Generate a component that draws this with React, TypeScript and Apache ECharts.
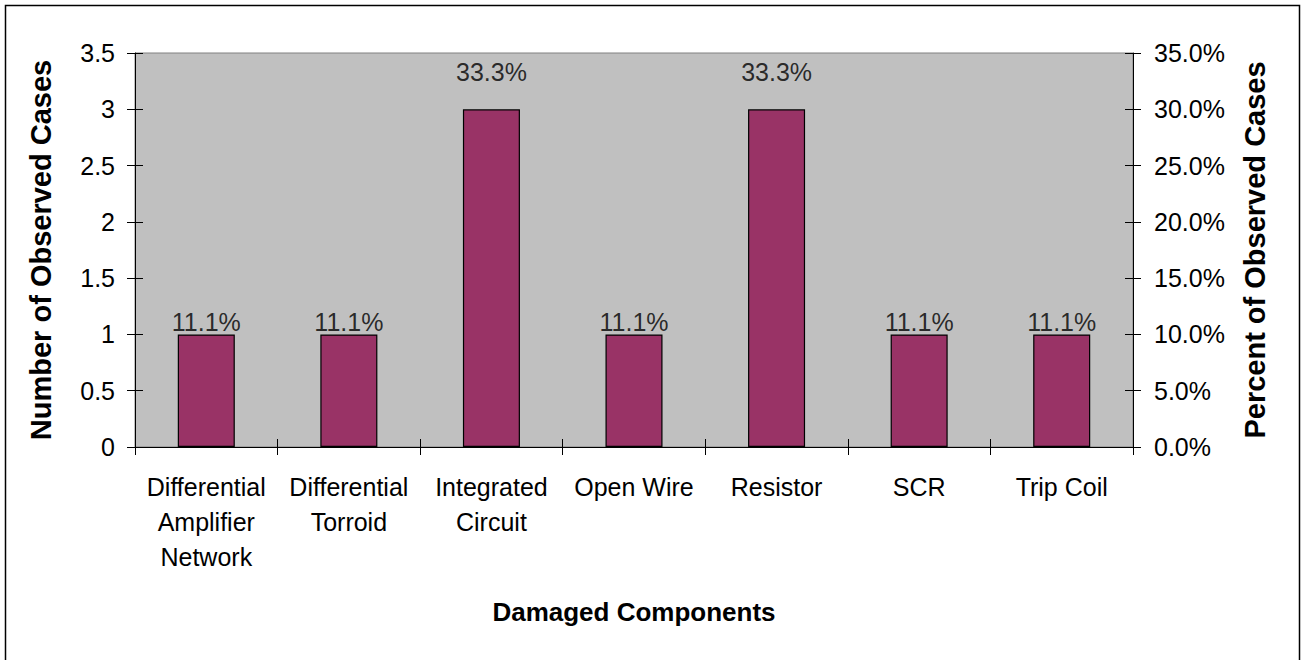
import React, { useEffect, useRef } from "react";
import * as echarts from "echarts";

const categories = [
  "Differential\nAmplifier\nNetwork",
  "Differential\nTorroid",
  "Integrated\nCircuit",
  "Open Wire",
  "Resistor",
  "SCR",
  "Trip Coil",
];
const counts = [1, 1, 3, 1, 3, 1, 1];
const percents = [11.1, 11.1, 33.3, 11.1, 33.3, 11.1, 11.1];

const FONT = "'Liberation Sans', Arial, sans-serif";

export default function App() {
  const ref = useRef<HTMLDivElement>(null);
  useEffect(() => {
    document.body.style.margin = "0";
    const chart = echarts.init(ref.current!, null, { renderer: "svg" });
    const black = "#000000";
    chart.setOption({
      animation: false,
      textStyle: { fontFamily: FONT },
      grid: {
        left: 135,
        right: 172,
        top: 53,
        bottom: 213,
        show: true,
        backgroundColor: "#C0C0C0",
        borderColor: "#808080",
        borderWidth: 1,
      },
      graphic: [
        {
          type: "rect",
          shape: { x: 5.5, y: 5.5, width: 1294, height: 700 },
          style: { fill: "none", stroke: "#000", lineWidth: 1.5 },
          silent: true,
        },
      ],
      xAxis: [
        {
          type: "category",
          data: categories,
          position: "bottom",
          axisLine: { show: true, lineStyle: { color: black, width: 1 } },
          axisTick: { show: true, length: 8, lineStyle: { color: black } },
          axisLabel: {
            interval: 0,
            color: black,
            fontSize: 25,
            lineHeight: 35,
            margin: 22,
            fontFamily: FONT,
          },
          name: "Damaged Components",
          nameLocation: "middle",
          nameGap: 152,
          nameTextStyle: {
            fontSize: 26,
            fontWeight: "bold",
            color: black,
            fontFamily: FONT,
            verticalAlign: "top",
          },
          splitLine: { show: false },
        },
        {
          type: "category",
          data: categories,
          position: "bottom",
          offset: 0,
          axisLine: { show: false },
          axisTick: { show: true, inside: true, length: 8, lineStyle: { color: black } },
          axisLabel: { show: false },
          splitLine: { show: false },
        },
      ],
      yAxis: [
        {
          type: "value",
          position: "left",
          min: 0,
          max: 3.5,
          interval: 0.5,
          axisLine: { show: true, lineStyle: { color: black, width: 1 } },
          axisTick: { show: true, length: 8, lineStyle: { color: black } },
          axisLabel: { color: black, fontSize: 25, margin: 20, fontFamily: FONT },
          splitLine: { show: false },
          name: "Number of Observed Cases",
          nameLocation: "middle",
          nameGap: 80,
          nameTextStyle: { fontSize: 29, fontWeight: "bold", color: black, fontFamily: FONT },
        },
        {
          type: "value",
          position: "right",
          min: 0,
          max: 35,
          interval: 5,
          axisLine: { show: true, lineStyle: { color: black, width: 1 } },
          axisTick: { show: true, length: 8, lineStyle: { color: black } },
          axisLabel: {
            color: black,
            fontSize: 25,
            margin: 21,
            fontFamily: FONT,
            formatter: (v: number) => v.toFixed(1) + "%",
          },
          splitLine: { show: false },
          name: "Percent of Observed Cases",
          nameLocation: "middle",
          nameGap: 107,
          nameTextStyle: { fontSize: 29, fontWeight: "bold", color: black, fontFamily: FONT },
        },
        {
          type: "value",
          position: "left",
          offset: 0,
          min: 0,
          max: 3.5,
          interval: 0.5,
          axisLine: { show: false },
          axisTick: { show: true, inside: true, length: 8, lineStyle: { color: black } },
          axisLabel: { show: false },
          splitLine: { show: false },
        },
        {
          type: "value",
          position: "right",
          offset: 0,
          min: 0,
          max: 35,
          interval: 5,
          axisLine: { show: false },
          axisTick: { show: true, inside: true, length: 8, lineStyle: { color: black } },
          axisLabel: { show: false },
          splitLine: { show: false },
        },
      ],
      series: [
        {
          type: "bar",
          xAxisIndex: 0,
          yAxisIndex: 0,
          data: counts,
          barWidth: "40%",
          itemStyle: { color: "#993366", borderColor: "#000", borderWidth: 1.2 },
        },
        {
          type: "scatter",
          xAxisIndex: 0,
          yAxisIndex: 1,
          data: percents,
          symbolSize: 1,
          itemStyle: { color: "rgba(0,0,0,0)" },
          label: {
            show: true,
            position: "inside",
            color: black,
            textBorderWidth: 0,
            fontSize: 25,
            fontFamily: FONT,
            formatter: (p: any) => p.value.toFixed(1) + "%",
          },
          z: 5,
        },
      ],
    });
    return () => chart.dispose();
  }, []);
  return <div ref={ref} style={{ width: 1305, height: 660 }} />;
}
